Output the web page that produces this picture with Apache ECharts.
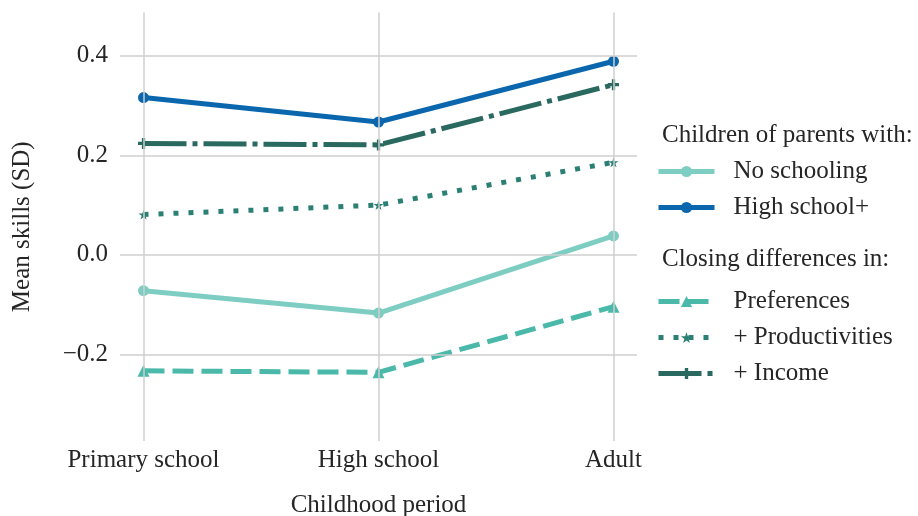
<!DOCTYPE html>
<html><head><meta charset="utf-8">
<script src="https://cdn.jsdelivr.net/npm/echarts@6/dist/echarts.min.js"></script>
<style>html,body{margin:0;padding:0;background:#fff}#c{width:918px;height:516px}</style>
</head><body><div id="c"></div>
<script>
const categories = ['Primary school', 'High school', 'Adult'];
const noSchooling = [-0.072, -0.117, 0.038];
const highSchoolPlus = [0.316, 0.267, 0.389];
const preferences = [-0.233, -0.236, -0.104];
const productivities = [0.081, 0.100, 0.186];
const income = [0.224, 0.221, 0.342];
const yTicks = [-0.2, 0.0, 0.2, 0.4];
const xTicks = [0, 1, 2];

const FONT = '"Liberation Serif", "DejaVu Serif", serif';
const TXT = '#262626';
const FS = 25;
const LW = 5;
const STAR = 'path://M50,0 L61,35 L98,35 L68,57 L79,91 L50,70 L21,91 L32,57 L2,35 L39,35 Z';
const PLUS = 'path://M35,0H65V35H100V65H65V100H35V65H0V35H35Z';

function pts(arr) { return arr.map((v, i) => [i, v]); }
function fmtY(v) { return (v < 0 ? '\u2212' : '') + Math.abs(v).toFixed(1); }

const legendBase = {
  orient: 'vertical', left: 651, itemWidth: 56, itemHeight: 14, itemGap: 11,
  lineStyle: {width: LW},
  textStyle: {fontFamily: FONT, fontSize: FS, color: TXT, lineHeight: 25, padding: [0, 0, 0, 14]}
};

const chart = echarts.init(document.getElementById('c'), null, {renderer: 'canvas'});
chart.setOption({
  animation: false,
  backgroundColor: '#ffffff',
  textStyle: {fontFamily: FONT, color: TXT},
  grid: {left: 120, top: 12.5, width: 517, height: 428.5, containLabel: false, outerBoundsMode: 'none'},
  xAxis: {
    type: 'value', min: -0.1, max: 2.1,
    axisLine: {show: false}, axisTick: {show: false}, splitLine: {show: false},
    axisLabel: {customValues: xTicks, formatter: v => categories[Math.round(v)] || '',
      fontFamily: FONT, fontSize: FS, color: TXT, margin: 7},
    name: 'Childhood period', nameLocation: 'middle', nameGap: 52,
    nameTextStyle: {fontFamily: FONT, fontSize: FS, color: TXT}
  },
  yAxis: {
    type: 'value', min: -0.374, max: 0.487,
    axisLine: {show: false}, axisTick: {show: false}, splitLine: {show: false},
    axisLabel: {customValues: yTicks, formatter: fmtY, fontFamily: FONT, fontSize: FS, color: TXT, margin: 12},
    name: 'Mean skills (SD)', nameLocation: 'middle', nameGap: 85,
    nameTextStyle: {fontFamily: FONT, fontSize: FS, color: TXT}
  },
  legend: [
    Object.assign({data: ['No schooling', 'High school+'], top: 154}, legendBase),
    Object.assign({data: ['Preferences', '+ Productivities', '+ Income'], top: 284}, legendBase)
  ],
  graphic: [
    {type: 'text', left: 662, top: 123, style: {text: 'Children of parents with:', font: FS + 'px ' + FONT, fill: TXT}},
    {type: 'text', left: 662, top: 247, style: {text: 'Closing differences in:', font: FS + 'px ' + FONT, fill: TXT}}
  ],
  series: [
    {type: 'line', name: '_grid', data: [], z: 0, silent: true,
     markLine: {silent: true, symbol: ['none', 'none'], label: {show: false},
       lineStyle: {color: '#cfcfcf', width: 1.5, type: 'solid'},
       data: yTicks.map(v => ({yAxis: v})).concat(xTicks.map(v => ({xAxis: v})))}},
    {type: 'line', name: 'No schooling', data: pts(noSchooling), z: 3,
     symbol: 'circle', symbolSize: 11,
     lineStyle: {color: '#7ecdc3', width: LW}, itemStyle: {color: '#7ecdc3'}},
    {type: 'line', name: 'High school+', data: pts(highSchoolPlus), z: 3,
     symbol: 'circle', symbolSize: 11,
     lineStyle: {color: '#0a66ad', width: LW}, itemStyle: {color: '#0a66ad'}},
    {type: 'line', name: 'Preferences', data: pts(preferences), z: 3,
     symbol: 'triangle', symbolSize: 12,
     lineStyle: {color: '#4ab9a9', width: LW, type: [21, 8]}, itemStyle: {color: '#4ab9a9'}},
    {type: 'line', name: '+ Productivities', data: pts(productivities), z: 3,
     symbol: STAR, symbolSize: 10,
     lineStyle: {color: '#2b8074', width: LW, type: [5, 10]}, itemStyle: {color: '#2b8074'}},
    {type: 'line', name: '+ Income', data: pts(income), z: 3,
     symbol: PLUS, symbolSize: 11,
     lineStyle: {color: '#29695f', width: LW, type: [43, 6, 5, 6]}, itemStyle: {color: '#29695f'}}
  ]
});
</script></body></html>
